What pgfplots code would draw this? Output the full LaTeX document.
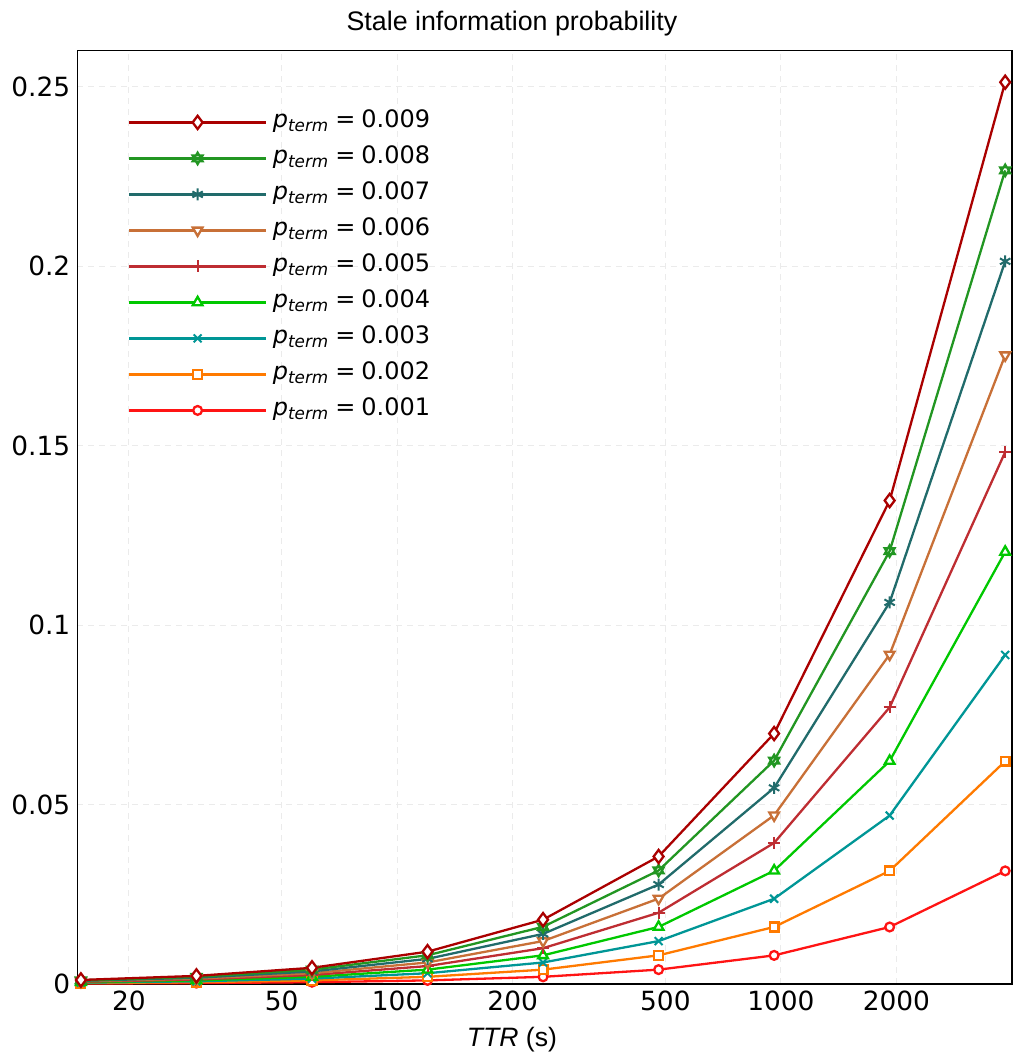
\documentclass[border=0pt]{standalone}
\usepackage{fontspec}
\setmainfont{DejaVu Sans}
\newfontfamily\helv{Liberation Sans}
\usepackage{pgfplots}
\usepackage{pgfplotstable}
\pgfplotsset{compat=1.18}

\definecolor{c9}{RGB}{170,0,0}
\definecolor{c8}{RGB}{34,150,34}
\definecolor{c7}{RGB}{33,107,107}
\definecolor{c6}{RGB}{200,112,55}
\definecolor{c5}{RGB}{190,45,50}
\definecolor{c4}{RGB}{0,200,0}
\definecolor{c3}{RGB}{0,150,150}
\definecolor{c2}{RGB}{255,122,0}
\definecolor{c1}{RGB}{255,20,20}

\pgfdeclareplotmark{hexagram}{%
  \pgfpathmoveto{\pgfqpointpolar{90}{\pgfplotmarksize}}%
  \pgfpathlineto{\pgfqpointpolar{210}{\pgfplotmarksize}}%
  \pgfpathlineto{\pgfqpointpolar{330}{\pgfplotmarksize}}%
  \pgfpathclose
  \pgfpathmoveto{\pgfqpointpolar{270}{\pgfplotmarksize}}%
  \pgfpathlineto{\pgfqpointpolar{30}{\pgfplotmarksize}}%
  \pgfpathlineto{\pgfqpointpolar{150}{\pgfplotmarksize}}%
  \pgfpathclose
  \pgfusepathqstroke
}

\pgfplotstableread{
x     p1        p2        p3        p4        p5        p6        p7        p8        p9
15    0.000125  0.00025   0.000376  0.000501  0.000626  0.000752  0.000877  0.001003  0.001129
30    0.00025   0.0005    0.00075   0.001     0.00125   0.0015    0.00175   0.002     0.00226
60    0.0005    0.001     0.0015    0.002     0.0025    0.003     0.0035    0.004     0.00451
120   0.001     0.002     0.003     0.004     0.005     0.006     0.007     0.008     0.009
240   0.002     0.003996  0.005991  0.007984  0.009975  0.011964  0.013951  0.015936  0.017919
480   0.004     0.007984  0.01195   0.0159    0.01985   0.02378   0.02771   0.03162   0.03552
960   0.00797   0.01589   0.02375   0.03156   0.03931   0.047     0.05465   0.06224   0.06977
1920  0.01588   0.03152   0.04693   0.06212   0.07707   0.0918    0.10631   0.1206    0.13468
3840  0.03151   0.06206   0.09167   0.12038   0.1482    0.17517   0.20131   0.22665   0.25122
}\data

\newcommand{\pt}[1]{\textit{p}\raisebox{-1.8pt}{\fontsize{8.4}{9}\selectfont\textit{term}}\hspace{3.5pt}=\hspace{3pt}#1}

\begin{document}
\begin{tikzpicture}
\useasboundingbox (-38.65pt,-39.5pt) rectangle (473.35pt,492pt);
\begin{axis}[
  at={(0,0)}, anchor=south west,
  scale only axis, width=467.35pt, height=466.65pt,
  xmode=log, xmin=14.68, xmax=4000, ymin=0, ymax=0.26,
  xtick={20,50,100,200,500,1000,2000},
  xticklabels={20,50,100,200,500,1000,2000},
  ytick={0,0.05,0.1,0.15,0.2,0.25},
  yticklabels={0,0.05,0.1,0.15,0.2,0.25},
  xminorticks=false, yminorticks=false,
  major tick length=0pt,
  /pgf/number format/assume math mode=true,
  tick label style={font=\fontsize{13.2}{15}\selectfont},
  grid=major,
  major grid style={dash pattern=on 3pt off 2.5pt, draw=black!8, line width=0.5pt},
  axis line style={line width=0.6pt},
  clip=false,
  title={Stale information probability},
  title style={at={(0.465,1)}, anchor=base, yshift=4pt, font=\helv\fontsize{13.4}{15}\selectfont},
  xlabel={\textit{TTR} (s)},
  xlabel style={at={(0.465,0)}, anchor=base, yshift=-31.35pt, font=\helv\fontsize{13.3}{15}\selectfont},
  every axis plot/.append style={line width=1.15pt, mark options={solid, line width=1pt}},
  reverse legend,
  legend cell align=left,
  legend style={at={(0.0542,0.936)}, anchor=north west, draw=none, fill=none,
    inner sep=0pt, outer sep=0pt, row sep=6pt,
    nodes={inner sep=0pt, text height=8.5pt, text depth=3.5pt},
    font=\fontsize{12}{13}\selectfont,
    /tikz/every odd column/.append style={column sep=2.8pt}},
  legend image code/.code={%
    \draw[mark repeat=2,mark phase=2] plot coordinates {(0pt,0pt)(34.25pt,0pt)(68.5pt,0pt)};},
]
\addplot[c1, mark=*, mark size=2.2pt, mark options={fill=white}] table[x=x,y=p1]{\data};
\addlegendentry{\pt{0.001}}
\addplot[c2, mark=square*, mark size=2.2pt, mark options={fill=white}] table[x=x,y=p2]{\data};
\addlegendentry{\pt{0.002}}
\addplot[c3, mark=x, mark size=2.8pt] table[x=x,y=p3]{\data};
\addlegendentry{\pt{0.003}}
\addplot[c4, mark=triangle*, mark size=2.8pt, mark options={fill=white}] table[x=x,y=p4]{\data};
\addlegendentry{\pt{0.004}}
\addplot[c5, mark=+, mark size=3pt] table[x=x,y=p5]{\data};
\addlegendentry{\pt{0.005}}
\addplot[c6, mark=triangle*, mark size=2.8pt, mark options={fill=white, rotate=180}] table[x=x,y=p6]{\data};
\addlegendentry{\pt{0.006}}
\addplot[c7, mark=asterisk, mark size=3pt] table[x=x,y=p7]{\data};
\addlegendentry{\pt{0.007}}
\addplot[c8, mark=hexagram, mark size=3pt] table[x=x,y=p8]{\data};
\addlegendentry{\pt{0.008}}
\addplot[c9, mark=diamond*, mark size=3.3pt, mark options={fill=white}] table[x=x,y=p9]{\data};
\addlegendentry{\pt{0.009}}
\end{axis}
\end{tikzpicture}
\end{document}
